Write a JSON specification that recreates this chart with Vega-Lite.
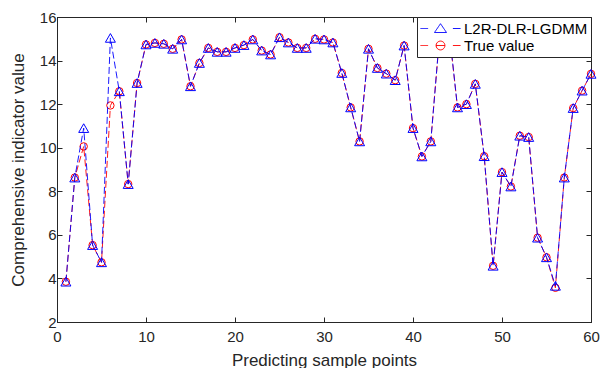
{
  "$schema": "https://vega.github.io/schema/vega-lite/v6.json",
  "width": 534,
  "height": 305,
  "autosize": {"type": "none"},
  "padding": {"left": 57, "top": 17, "right": 11, "bottom": 46},
  "background": "white",
  "config": {
    "font": "Liberation Sans",
    "view": {"stroke": "#262626", "strokeWidth": 1},
    "axis": {
      "grid": false,
      "domainColor": "#262626",
      "domainWidth": 1,
      "tickColor": "#262626",
      "tickWidth": 1,
      "tickSize": -5,
      "labelColor": "#262626",
      "titleColor": "#262626",
      "labelFontSize": 15,
      "titleFontSize": 17,
      "titleFontWeight": "normal",
      "labelFont": "Liberation Sans",
      "titleFont": "Liberation Sans",
      "labelFlush": false
    }
  },
  "data": {
    "values": [
      {"x": 1, "predicted": 3.85, "actual": 3.85},
      {"x": 2, "predicted": 8.63, "actual": 8.63},
      {"x": 3, "predicted": 10.9, "actual": 10.06},
      {"x": 4, "predicted": 5.53, "actual": 5.53},
      {"x": 5, "predicted": 4.74, "actual": 4.74},
      {"x": 6, "predicted": 15.04, "actual": 11.94},
      {"x": 7, "predicted": 12.59, "actual": 12.59},
      {"x": 8, "predicted": 8.33, "actual": 8.33},
      {"x": 9, "predicted": 12.97, "actual": 12.97},
      {"x": 10, "predicted": 14.74, "actual": 14.74},
      {"x": 11, "predicted": 14.81, "actual": 14.81},
      {"x": 12, "predicted": 14.77, "actual": 14.77},
      {"x": 13, "predicted": 14.54, "actual": 14.54},
      {"x": 14, "predicted": 14.97, "actual": 14.97},
      {"x": 15, "predicted": 12.82, "actual": 12.82},
      {"x": 16, "predicted": 13.89, "actual": 13.89},
      {"x": 17, "predicted": 14.58, "actual": 14.58},
      {"x": 18, "predicted": 14.4, "actual": 14.4},
      {"x": 19, "predicted": 14.4, "actual": 14.4},
      {"x": 20, "predicted": 14.58, "actual": 14.58},
      {"x": 21, "predicted": 14.71, "actual": 14.71},
      {"x": 22, "predicted": 14.97, "actual": 14.97},
      {"x": 23, "predicted": 14.46, "actual": 14.46},
      {"x": 24, "predicted": 14.28, "actual": 14.28},
      {"x": 25, "predicted": 15.07, "actual": 15.07},
      {"x": 26, "predicted": 14.83, "actual": 14.83},
      {"x": 27, "predicted": 14.58, "actual": 14.58},
      {"x": 28, "predicted": 14.58, "actual": 14.58},
      {"x": 29, "predicted": 15.0, "actual": 15.0},
      {"x": 30, "predicted": 14.97, "actual": 14.97},
      {"x": 31, "predicted": 14.83, "actual": 14.83},
      {"x": 32, "predicted": 13.43, "actual": 13.43},
      {"x": 33, "predicted": 11.85, "actual": 11.85},
      {"x": 34, "predicted": 10.29, "actual": 10.29},
      {"x": 35, "predicted": 14.54, "actual": 14.54},
      {"x": 36, "predicted": 13.66, "actual": 13.66},
      {"x": 37, "predicted": 13.4, "actual": 13.4},
      {"x": 38, "predicted": 13.1, "actual": 13.1},
      {"x": 39, "predicted": 14.69, "actual": 14.69},
      {"x": 40, "predicted": 10.9, "actual": 10.9},
      {"x": 41, "predicted": 9.6, "actual": 9.6},
      {"x": 42, "predicted": 10.29, "actual": 10.29},
      {"x": 43, "predicted": 15.2, "actual": 15.2},
      {"x": 44, "predicted": 15.6, "actual": 15.6},
      {"x": 45, "predicted": 11.85, "actual": 11.85},
      {"x": 46, "predicted": 12.0, "actual": 12.0},
      {"x": 47, "predicted": 12.93, "actual": 12.93},
      {"x": 48, "predicted": 9.61, "actual": 9.61},
      {"x": 49, "predicted": 4.58, "actual": 4.58},
      {"x": 50, "predicted": 8.88, "actual": 8.88},
      {"x": 51, "predicted": 8.22, "actual": 8.22},
      {"x": 52, "predicted": 10.55, "actual": 10.55},
      {"x": 53, "predicted": 10.49, "actual": 10.49},
      {"x": 54, "predicted": 5.87, "actual": 5.87},
      {"x": 55, "predicted": 4.97, "actual": 4.97},
      {"x": 56, "predicted": 3.66, "actual": 3.57},
      {"x": 57, "predicted": 8.63, "actual": 8.63},
      {"x": 58, "predicted": 11.82, "actual": 11.82},
      {"x": 59, "predicted": 12.62, "actual": 12.62},
      {"x": 60, "predicted": 13.39, "actual": 13.39}
    ]
  },
  "layer": [
    {
      "mark": {"type": "line", "strokeDash": [7, 3], "strokeWidth": 0.9},
      "encoding": {
        "x": {"field": "x", "type": "quantitative", "scale": {"domain": [0, 60], "nice": false, "zero": false},
              "axis": {"orient": "bottom", "values": [0, 10, 20, 30, 40, 50, 60], "title": "Predicting sample points", "labelPadding": 12, "titlePadding": 8}},
        "y": {"field": "actual", "type": "quantitative", "scale": {"domain": [2, 16], "nice": false, "zero": false},
              "axis": {"orient": "left", "values": [2, 4, 6, 8, 10, 12, 14, 16], "title": "Comprehensive indicator value", "labelPadding": 6, "titlePadding": 12}},
        "color": {
          "datum": "True value",
          "scale": {"domain": ["L2R-DLR-LGDMM", "True value"], "range": ["#0000ff", "#ff0000"]},
          "legend": {
            "orient": "top-right",
            "offset": 0,
            "title": null,
            "fillColor": "white",
            "strokeColor": "#262626",
            "padding": 3,
            "labelFontSize": 15,
            "labelColor": "#000000",
            "labelFont": "Liberation Sans",
            "symbolSize": 1600,
            "clipHeight": 17,
            "labelOffset": 3,
            "rowPadding": 0,
            "symbolStrokeWidth": 1,
            "encode": {
              "symbols": {
                "update": {
                  "shape": {"signal": "datum.value === 'True value' ? 'M-1,0H-0.62M-0.22,0H0.22M0.62,0H1M0.22,0A0.22,0.22,0,1,1,-0.22,0A0.22,0.22,0,1,1,0.22,0Z' : 'M-1,0H-0.62M0.62,0H1M0,-0.24L0.3,0.2L-0.3,0.2Z'"},
                  "stroke": {"signal": "datum.value === 'True value' ? '#ff0000' : '#0000ff'"},
                  "fill": {"value": "transparent"},
                  "strokeDash": {"value": [1, 0]},
                  "strokeWidth": {"value": 1}
                }
              }
            }
          }
        }
      }
    },
    {
      "mark": {"type": "point", "shape": "circle", "filled": false, "size": 55, "strokeWidth": 1, "opacity": 1},
      "encoding": {
        "x": {"field": "x", "type": "quantitative", "scale": {"domain": [0, 60], "nice": false, "zero": false}, "axis": null},
        "y": {"field": "actual", "type": "quantitative", "scale": {"domain": [2, 16], "nice": false, "zero": false}, "axis": null},
        "color": {"datum": "True value"}
      }
    },
    {
      "mark": {"type": "line", "strokeDash": [7, 3], "strokeWidth": 0.9},
      "encoding": {
        "x": {"field": "x", "type": "quantitative", "scale": {"domain": [0, 60], "nice": false, "zero": false}, "axis": null},
        "y": {"field": "predicted", "type": "quantitative", "scale": {"domain": [2, 16], "nice": false, "zero": false}, "axis": null},
        "color": {"datum": "L2R-DLR-LGDMM"}
      }
    },
    {
      "mark": {"type": "point", "shape": "triangle-up", "filled": false, "size": 100, "strokeWidth": 1, "opacity": 1},
      "encoding": {
        "x": {"field": "x", "type": "quantitative", "scale": {"domain": [0, 60], "nice": false, "zero": false}, "axis": null},
        "y": {"field": "predicted", "type": "quantitative", "scale": {"domain": [2, 16], "nice": false, "zero": false}, "axis": null},
        "color": {"datum": "L2R-DLR-LGDMM"}
      }
    },
    {
      "mark": {"type": "point", "opacity": 0},
      "encoding": {
        "x": {"field": "x", "type": "quantitative", "scale": {"domain": [0, 60], "nice": false, "zero": false}, "axis": {"orient": "top", "values": [0, 10, 20, 30, 40, 50, 60], "labels": false, "title": null}},
        "y": {"field": "actual", "type": "quantitative", "scale": {"domain": [2, 16], "nice": false, "zero": false}, "axis": {"orient": "right", "values": [2, 4, 6, 8, 10, 12, 14, 16], "labels": false, "title": null}}
      }
    }
  ],
  "resolve": {"axis": {"x": "independent", "y": "independent"}}
}
